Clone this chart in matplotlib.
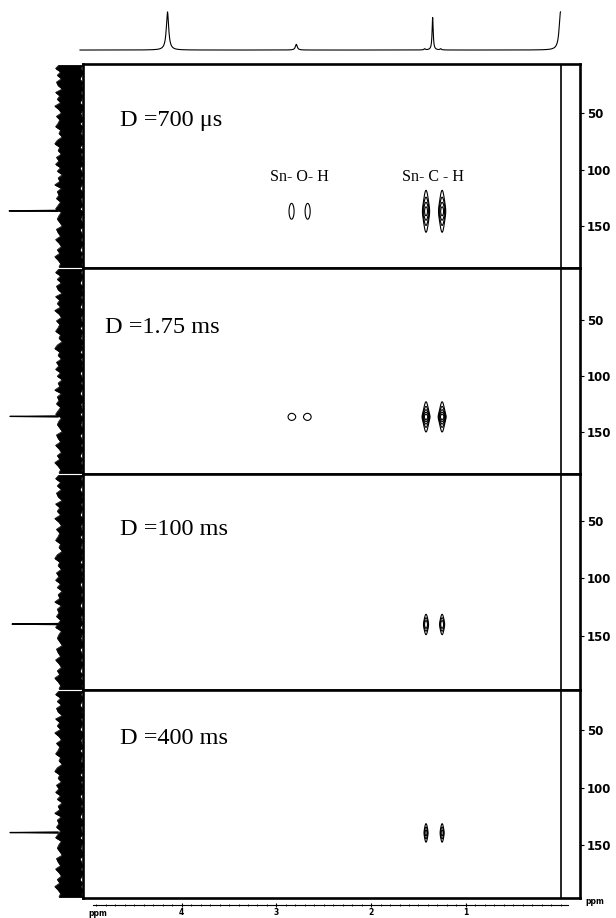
import numpy as np
import matplotlib.pyplot as plt
from matplotlib.ticker import MultipleLocator

# ---- values ----
# 1H trace on top: shift (ppm), relative height, half width (ppm)
h_shift = [4.15, 2.79, 1.435, 1.35, 1.265, 0.0]
h_height = [1.00, 0.15, 0.03, 0.85, 0.03, 1.00]
h_width = [0.015, 0.012, 0.008, 0.007, 0.008, 0.017]

delays = ['D =700 \u03bcs', 'D =1.75 ms', 'D =100 ms', 'D =400 ms']

# 2D cross peaks, 1H shifts of the two partners
oh_shift = [2.84, 2.67]
ch_shift = [1.42, 1.25]
sn_shift = [137.0, 136.5, 140.0, 139.5]   # 119Sn position in each panel

# Sn-O-H peaks: amplitude (lowest level = 1), widths in 1H and 119Sn
oh_amp = [1.25, 1.25, 0.0, 0.0]
oh_wx = [0.040, 0.055, 0.05, 0.05]
oh_wy = [14.0, 6.2, 6.0, 6.0]
# Sn-C-H peaks
ch_amp = [12.0, 30.0, 8.0, 6.0]
ch_wx = [0.017, 0.016, 0.013, 0.011]
ch_wy = [5.6, 2.5, 3.35, 3.6]

# 119Sn range shown in each panel (top, bottom)
f1_top = [6.6, 3.6, 9.1, 15.2]
f1_bot = [187.2, 187.5, 197.0, 196.1]
sn_ticks = [50, 100, 150]

# left 119Sn projection: spike height, ragged noise band edges
spike = [0.89, 0.88, 0.855, 0.88]
noise_hi = [0.29, 0.33, 0.27, 0.31, 0.26, 0.32, 0.30, 0.25, 0.33, 0.28,
            0.31, 0.27, 0.34, 0.29, 0.26, 0.32, 0.28, 0.30, 0.33, 0.27,
            0.29, 0.25, 0.31, 0.34, 0.28, 0.30, 0.26, 0.32, 0.29, 0.33,
            0.27, 0.31, 0.25, 0.30, 0.28, 0.34, 0.26, 0.31, 0.29, 0.32,
            0.27, 0.30, 0.33, 0.26, 0.29, 0.31, 0.28, 0.25, 0.32, 0.30,
            0.27, 0.33, 0.29, 0.26, 0.31, 0.28, 0.34, 0.30, 0.27, 0.29]
noise_lo = [0.01, 0.03, 0.00, 0.02, 0.04, 0.01, 0.02, 0.00, 0.03, 0.01,
            0.02, 0.04, 0.00, 0.01, 0.03, 0.02, 0.00, 0.04, 0.01, 0.02,
            0.03, 0.00, 0.02, 0.01, 0.04, 0.00, 0.03, 0.01, 0.02, 0.00,
            0.04, 0.02, 0.01, 0.03, 0.00, 0.02, 0.04, 0.01, 0.00, 0.03,
            0.02, 0.01, 0.04, 0.00, 0.02, 0.03, 0.01, 0.00, 0.04, 0.02,
            0.01, 0.03, 0.00, 0.02, 0.04, 0.01, 0.03, 0.00, 0.02, 0.01]

# ---- layout (pixels) ----
W, H = 616, 918
box_l, box_r = 83, 580
edges = [64, 268, 474, 690, 898]
label_x = [120, 105, 120, 120]

fig = plt.figure(figsize=(W / 100, H / 100), dpi=100)


def add(x0, y0, x1, y1):
    return fig.add_axes([x0 / W, 1 - y1 / H, (x1 - x0) / W, (y1 - y0) / H])


def ppm(x):
    # pixel column -> 1H ppm
    return (560.5 - x) / 94.7


def lorentz(x, x0, h, w):
    return h * w ** 2 / ((x - x0) ** 2 + w ** 2)


def cross(X, Y, x0, y0, amp, wx, wy):
    return amp * np.exp(-(X - x0) ** 2 / (2 * wx ** 2)) / (1 + ((Y - y0) / wy) ** 2)


serif = 'Liberation Serif'
levels = 2.0 ** np.arange(0, 7)

# top 1H trace
axt = add(75, 5, box_r, 55)
xs = np.linspace(ppm(80), 0.0, 4000)
ys = np.zeros_like(xs)
for s, h, w in zip(h_shift, h_height, h_width):
    ys += lorentz(xs, s, h, w)
axt.plot(xs, ys, color='k', lw=0.8)
axt.set_xlim(ppm(75), ppm(box_r))
axt.set_ylim(-0.13, 1.18)
axt.axis('off')

X, Y = np.meshgrid(np.arange(0.9, 3.2, 0.002), np.arange(95, 185, 0.25))

for i in range(4):
    top, bot = edges[i], edges[i + 1]
    ax = add(box_l, top, box_r, bot)
    ax.set_xlim(ppm(box_l), ppm(box_r))
    ax.set_ylim(f1_bot[i], f1_top[i])
    Z = np.zeros_like(X)
    for s in oh_shift:
        Z += cross(X, Y, s, sn_shift[i], oh_amp[i], oh_wx[i], oh_wy[i])
    for s in ch_shift:
        Z += cross(X, Y, s, sn_shift[i], ch_amp[i], ch_wx[i], ch_wy[i])
    ax.contour(X, Y, Z, levels=levels, colors='k', linewidths=0.8)
    ax.axvline(0.0, color='k', lw=1.2)
    for sp in ax.spines.values():
        sp.set_linewidth(1.9)
    ax.set_xticks([])
    ax.yaxis.tick_right()
    ax.set_yticks(sn_ticks)
    ax.tick_params(axis='y', length=3, width=0.8, pad=2, labelsize=8.5)
    for t in ax.get_yticklabels():
        t.set_fontweight('bold')
    ax.text(ppm(label_x[i]), 57, delays[i], fontsize=17.5, family=serif,
            ha='left', va='center')
    if i == 0:
        ax.text(2.76, 106.6, 'Sn- O- H', fontsize=11.5, family=serif,
                ha='center', va='center')
        ax.text(1.35, 106.6, 'Sn- C - H', fontsize=11.5, family=serif,
                ha='center', va='center')

    # left projection
    axp = add(0, top + 1, box_l, bot - 1)
    axp.set_xlim(1, 0)
    axp.set_ylim(f1_bot[i], f1_top[i])
    yy = np.linspace(f1_top[i], f1_bot[i], len(noise_hi))
    axp.fill_betweenx(yy, noise_lo, noise_hi, color='k', lw=0.6)
    axp.plot(noise_hi, yy, color='k', lw=0.5)
    c = sn_shift[i]
    axp.plot([0.30, spike[i], 0.30], [c - 0.5, c, c + 0.5], color='k', lw=0.9)
    axp.axis('off')

# bottom 1H scale
axb = add(93, 904, 568, 905)
axb.set_xlim(ppm(93), ppm(568))
for s in ['top', 'left', 'right']:
    axb.spines[s].set_visible(False)
axb.spines['bottom'].set_linewidth(0.8)
axb.patch.set_alpha(0)
axb.set_yticks([])
axb.set_xticks([4, 3, 2, 1])
axb.xaxis.set_minor_locator(MultipleLocator(0.1))
axb.tick_params(which='major', direction='inout', length=3, width=0.8, pad=0.5, labelsize=5.5)
axb.tick_params(which='minor', direction='inout', length=1.6, width=0.6)
for t in axb.get_xticklabels():
    t.set_fontweight('bold')

fig.text(88 / W, 1 - 913 / H, 'ppm', fontsize=5.5, fontweight='bold', va='center')
fig.text(585 / W, 1 - 901 / H, 'ppm', fontsize=5.5, fontweight='bold', va='center')

fig.savefig('out.png', dpi=100)
